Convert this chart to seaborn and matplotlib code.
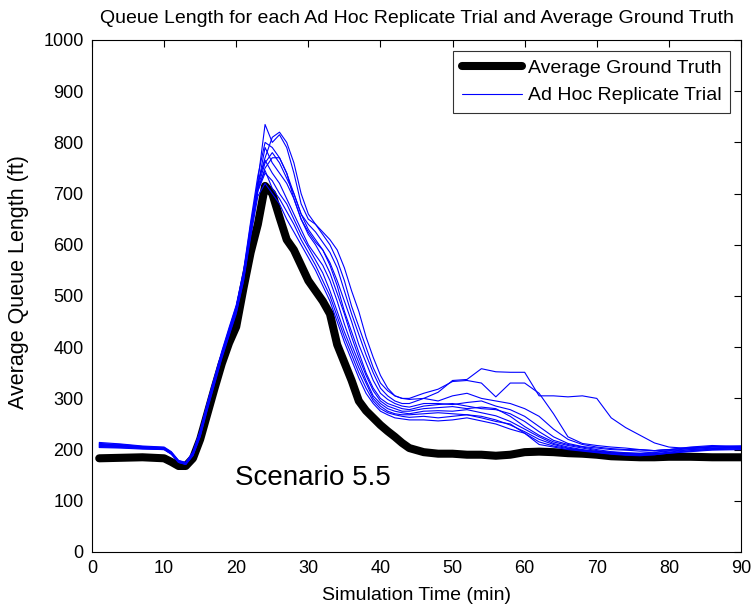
import numpy as np
import pandas as pd
import matplotlib
matplotlib.use("Agg")
import matplotlib.pyplot as plt
import seaborn as sns
from matplotlib.lines import Line2D

# ---------------- data ----------------
time_min = [1, 4, 7, 10, 11, 12, 13, 14, 15, 16, 17, 18, 19, 20, 21, 22, 23, 24, 25,
            26, 27, 28, 29, 30, 31, 32, 33, 34, 35, 36, 37, 38, 39, 40, 41, 42, 43, 44,
            46, 48, 50, 52, 54, 56, 58, 60, 62, 64, 66, 68, 70, 72, 74, 76, 78, 80, 83, 86, 90]

ground_truth = [183, 184, 185, 183, 176, 168, 168, 183, 220, 270, 320, 368, 408, 440, 515, 585, 640, 715, 700,
                654, 610, 590, 560, 530, 510, 490, 465, 405, 370, 335, 295, 276, 262, 248, 236, 225, 213, 203,
                195, 192, 192, 190, 190, 188, 190, 195, 196, 195, 193, 192, 190, 187, 186, 185, 185, 186, 186, 185, 185]

trial_1 = [212, 210, 206, 204, 195, 178, 174, 192, 232, 288, 338, 388, 432, 478, 540, 632, 725, 835, 800,
           815, 790, 740, 680, 650, 640, 625, 610, 590, 555, 510, 470, 420, 380, 345, 320, 305, 300, 298,
           300, 312, 335, 337, 358, 352, 351, 351, 305, 305, 303, 305, 300, 262, 243, 228, 213, 205, 202, 205, 207]
trial_2 = [208, 207, 204, 202, 193, 177, 173, 195, 235, 290, 340, 390, 435, 480, 545, 640, 720, 770, 810,
           820, 800, 760, 700, 660, 640, 620, 600, 570, 530, 480, 440, 400, 360, 330, 315, 305, 300, 300,
           310, 318, 333, 335, 330, 303, 330, 330, 310, 270, 225, 212, 208, 205, 203, 200, 198, 200, 203, 206, 205]
trial_3 = [214, 211, 207, 205, 196, 179, 175, 196, 238, 292, 342, 392, 438, 482, 548, 645, 735, 800, 790,
           770, 740, 700, 660, 640, 625, 605, 585, 555, 510, 465, 425, 385, 350, 320, 305, 295, 290, 290,
           300, 295, 305, 310, 300, 295, 290, 280, 265, 240, 220, 210, 205, 202, 200, 200, 198, 200, 205, 208, 206]
trial_4 = [206, 205, 203, 201, 192, 176, 172, 190, 228, 284, 334, 384, 428, 472, 535, 625, 715, 790, 760,
           740, 720, 690, 650, 625, 605, 590, 565, 530, 490, 450, 405, 370, 335, 310, 298, 290, 285, 283,
           290, 290, 288, 292, 295, 285, 278, 265, 245, 225, 212, 206, 203, 200, 199, 197, 198, 200, 204, 206, 207]
trial_5 = [210, 208, 205, 203, 194, 178, 174, 193, 233, 287, 337, 386, 431, 476, 538, 628, 712, 760, 780,
           760, 730, 700, 660, 630, 610, 590, 560, 520, 470, 430, 390, 350, 320, 300, 290, 285, 280, 278,
           285, 288, 290, 285, 280, 278, 270, 255, 235, 218, 210, 205, 200, 196, 194, 193, 195, 198, 202, 205, 204]
trial_6 = [204, 203, 201, 200, 191, 175, 171, 189, 226, 280, 330, 380, 424, 468, 530, 620, 705, 750, 770,
           770, 740, 690, 650, 620, 600, 575, 545, 505, 465, 420, 380, 345, 315, 295, 285, 280, 275, 275,
           280, 282, 284, 280, 283, 280, 265, 245, 228, 215, 208, 203, 198, 195, 193, 192, 194, 197, 200, 203, 205]
trial_7 = [211, 209, 205, 202, 193, 177, 173, 191, 230, 286, 336, 387, 433, 478, 542, 635, 722, 765, 740,
           720, 690, 660, 630, 600, 580, 560, 530, 490, 445, 405, 370, 335, 305, 290, 280, 275, 272, 270,
           275, 276, 275, 278, 272, 266, 255, 240, 225, 212, 205, 200, 196, 193, 191, 190, 192, 195, 200, 202, 203]
trial_8 = [207, 206, 203, 201, 192, 176, 172, 190, 229, 283, 333, 383, 427, 470, 533, 622, 705, 740, 725,
           700, 680, 650, 620, 595, 570, 545, 510, 470, 430, 395, 360, 330, 300, 285, 275, 270, 268, 268,
           270, 272, 270, 268, 265, 258, 248, 235, 220, 210, 203, 199, 195, 192, 190, 190, 191, 194, 198, 201, 202]
trial_9 = [209, 207, 204, 202, 193, 177, 173, 192, 231, 285, 335, 385, 430, 474, 536, 628, 710, 745, 710,
           690, 665, 640, 610, 585, 560, 530, 500, 460, 420, 385, 350, 320, 295, 280, 272, 268, 265, 263,
           265, 262, 265, 268, 262, 255, 250, 232, 215, 207, 202, 198, 195, 192, 190, 189, 190, 193, 197, 200, 201]
trial_10 = [205, 204, 202, 200, 191, 175, 171, 188, 225, 278, 328, 378, 422, 465, 528, 615, 695, 720, 700,
            680, 650, 625, 600, 575, 550, 520, 490, 450, 410, 375, 340, 310, 290, 275, 268, 262, 260, 258,
            258, 256, 258, 262, 256, 250, 240, 232, 210, 205, 200, 197, 194, 191, 189, 188, 190, 193, 196, 199, 200]

trials = [trial_1, trial_2, trial_3, trial_4, trial_5, trial_6, trial_7, trial_8, trial_9, trial_10]

x_ticks = [0, 10, 20, 30, 40, 50, 60, 70, 80, 90]
y_ticks = [0, 100, 200, 300, 400, 500, 600, 700, 800, 900, 1000]

# ---------------- plot ----------------
sns.set_style("white")
plt.rcParams['font.family'] = ['Liberation Sans', 'DejaVu Sans']
plt.rcParams['text.color'] = 'black'
plt.rcParams['axes.labelcolor'] = 'black'

fig = plt.figure(figsize=(7.52, 6.10), dpi=100)
ax = fig.add_axes([92 / 752, 1 - 552 / 610, (741 - 92) / 752, (552 - 40) / 610])

df_trials = pd.DataFrame({
    "time": np.tile(time_min, len(trials)),
    "queue": np.concatenate([np.array(t, dtype=float) for t in trials]),
    "trial": np.repeat(np.arange(len(trials)), len(time_min)),
})
df_gt = pd.DataFrame({"time": time_min, "queue": ground_truth})

sns.lineplot(data=df_gt, x="time", y="queue", color="black", lw=5.8, ax=ax,
             legend=False, zorder=2)
sns.lineplot(data=df_trials, x="time", y="queue", units="trial", estimator=None,
             color="#0000ff", lw=0.8, ax=ax, legend=False, zorder=3)

ax.set_xlim(0, 90)
ax.set_ylim(0, 1000)
ax.set_xticks(x_ticks)
ax.set_yticks(y_ticks)
ax.tick_params(direction="in", length=5, width=0.8, top=True, right=True,
               labelsize=13, colors="black", pad=6)
for s in ax.spines.values():
    s.set_color("black")
    s.set_linewidth(0.8)

ax.set_xlabel("Simulation Time (min)", fontsize=14)
ax.xaxis.set_label_coords(0.5, (552 - 596) / 512, transform=ax.transAxes)
ax.xaxis.label.set_va("center")
ax.set_ylabel("Average Queue Length (ft)", fontsize=15.5)
ax.yaxis.set_label_coords((19 - 92) / 649, (552 - 282) / 512, transform=ax.transAxes)
ax.yaxis.label.set_va("center")
ax.set_title("Queue Length for each Ad Hoc Replicate Trial and Average Ground Truth",
             fontsize=14, pad=12)

ax.text(19.8, 145, "Scenario 5.5", fontsize=20, va="center", ha="left")

handles = [Line2D([0], [0], color="black", lw=5.8),
           Line2D([0], [0], color="#0000ff", lw=0.8)]
leg = ax.legend(handles, ["Average Ground Truth", "Ad Hoc Replicate Trial"],
                loc="upper right", fontsize=14, handlelength=3.1,
                frameon=True, fancybox=False, borderaxespad=0.55,
                handletextpad=0.3, borderpad=0.45, labelspacing=0.5)
leg.get_frame().set_edgecolor("black")
leg.get_frame().set_linewidth(0.8)

fig.savefig("out.png", dpi=100)
